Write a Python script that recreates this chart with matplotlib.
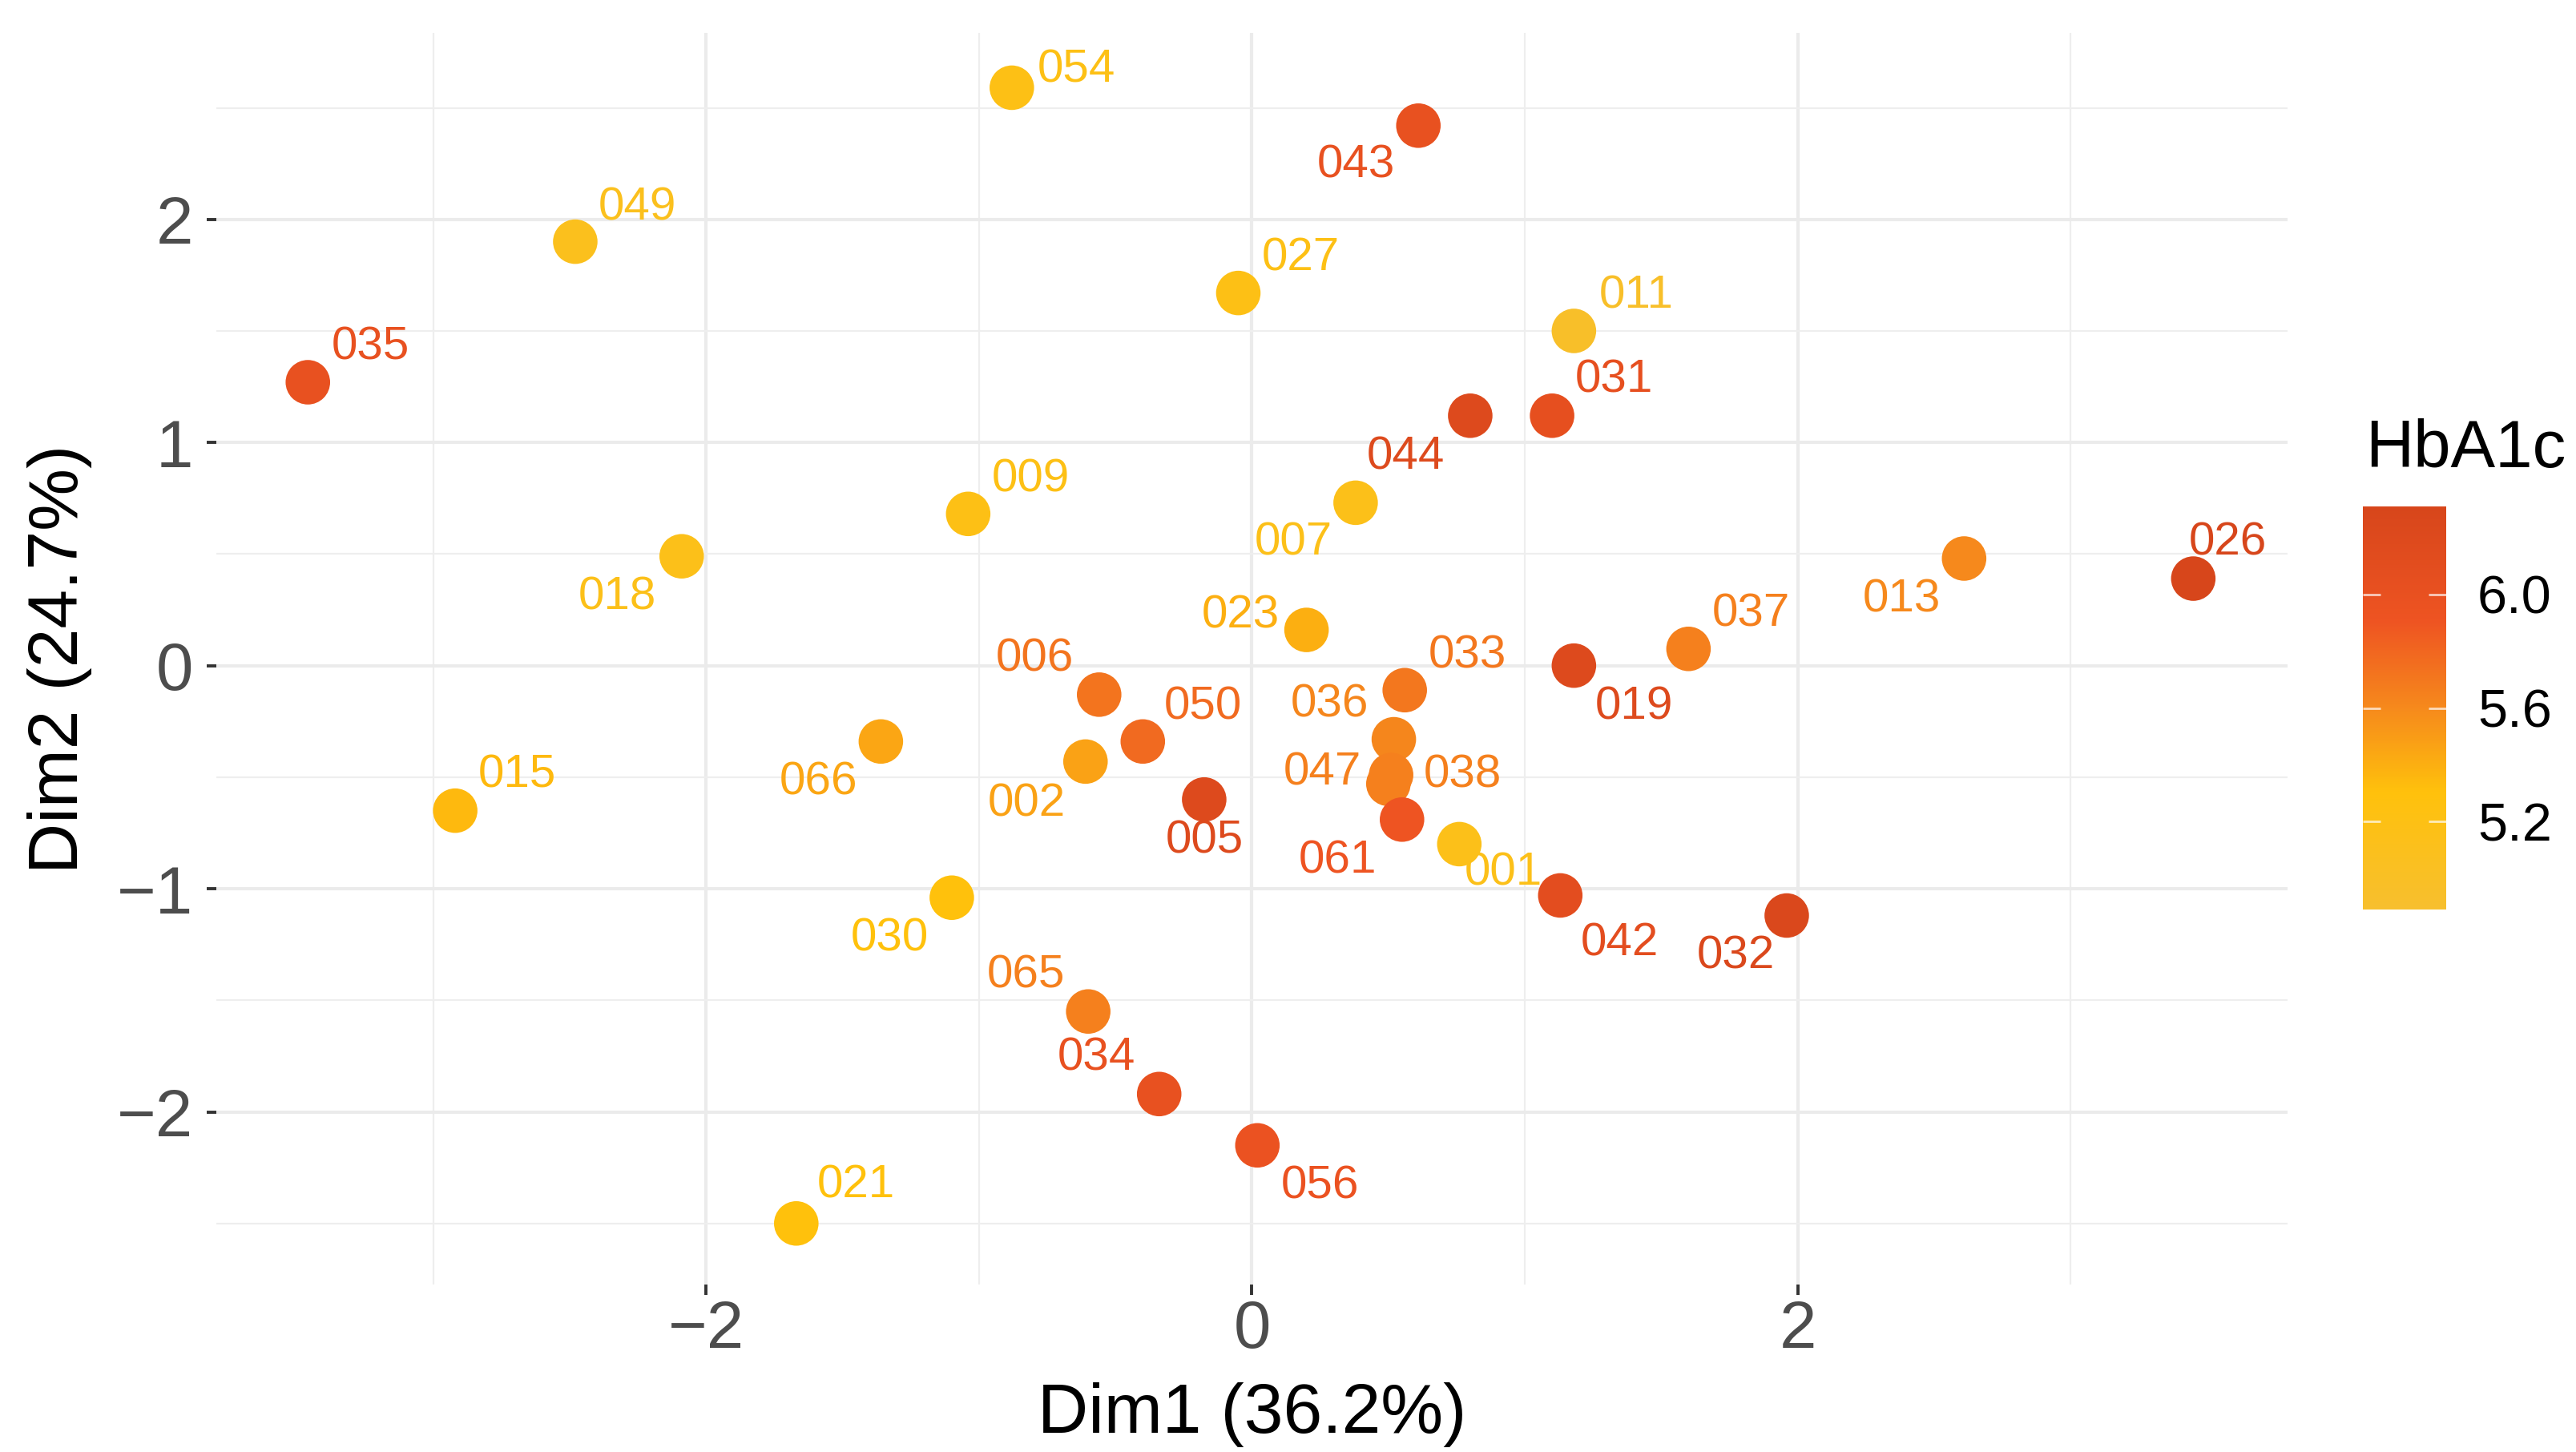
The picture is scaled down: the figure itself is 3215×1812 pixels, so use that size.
import numpy as np
import matplotlib
matplotlib.use("Agg")
import matplotlib.pyplot as plt
from matplotlib.colors import LinearSegmentedColormap, Normalize

plt.rcParams['font.family'] = ['Liberation Sans', 'DejaVu Sans']

# sample ids, PCA coordinates and HbA1c values
ids = ["054", "043", "049", "027", "011", "035", "031", "044", "007", "009",
       "018", "013", "026", "023", "037", "019", "033", "006", "036", "050",
       "066", "002", "047", "038", "005", "061", "001", "042", "032", "030",
       "065", "034", "056", "021", "015"]
dim1 = [-0.88, 0.61, -2.48, -0.05, 1.18, -3.46, 1.10, 0.80, 0.38, -1.04,
        -2.09, 2.61, 3.45, 0.20, 1.60, 1.18, 0.56, -0.56, 0.52, -0.40,
        -1.36, -0.61, 0.50, 0.51, -0.175, 0.55, 0.76, 1.13, 1.96, -1.10,
        -0.60, -0.34, 0.02, -1.67, -2.92]
dim2 = [2.59, 2.42, 1.90, 1.67, 1.50, 1.27, 1.12, 1.12, 0.73, 0.68,
        0.49, 0.48, 0.39, 0.16, 0.075, 0.0, -0.11, -0.13, -0.33, -0.34,
        -0.34, -0.43, -0.53, -0.49, -0.60, -0.69, -0.80, -1.03, -1.12, -1.04,
        -1.55, -1.92, -2.15, -2.50, -0.65]
hba1c = [5.2, 6.0, 5.1, 5.2, 4.95, 6.0, 6.05, 6.2, 5.15, 5.2,
         5.15, 5.6, 6.3, 5.4, 5.65, 6.2, 5.7, 5.72, 5.62, 5.78,
         5.45, 5.47, 5.65, 5.65, 6.2, 5.9, 5.15, 6.1, 6.25, 5.3,
         5.65, 6.0, 5.95, 5.3, 5.35]

# label offsets (points), mimicking the repel layout
label_dx = [29, -28, 28, 28, 28, 28, 28, -29, -28, 28,
            -29, -28, 15.5, -29.5, 28, 27, 28, -29, -29, 27,
            -28, -26.5, -29.5, 32, 0, -29, 20, 26.5, -23, -28,
            -28, -28, 28, 27, 28]
label_dy = [8, -18, 15, 15.5, 15.5, 15.5, 16, -18.5, -18, 15.5,
            -18.5, -18.5, 16, 6.5, 15.5, -18.5, 15.5, 16, 15.5, 15.5,
            -18.5, -19, 5, 0, -18.5, -18.5, -13, -21.5, -18.5, -18.5,
            16, 16, -18.5, 17, 16]

cmap = LinearSegmentedColormap.from_list(
    "hba1c",
    [(0.0, "#F7BF2E"), (0.29, "#FFC10C"), (0.50, "#F6891C"),
     (0.715, "#EE5422"), (1.0, "#D7461B")])
norm = Normalize(4.89, 6.31)

fig = plt.figure(figsize=(16.08, 9.06), dpi=200)
ax = fig.add_axes([0.0840, 0.1153, 0.8037, 0.8621])

sc = ax.scatter(dim1, dim2, c=hba1c, cmap=cmap, norm=norm, s=400,
                linewidths=0, zorder=3)
for lab, x, y, v, dx, dy in zip(ids, dim1, dim2, hba1c, label_dx, label_dy):
    ax.annotate(lab, (x, y), xytext=(dx, dy), textcoords='offset points',
                ha='center', va='center', fontsize=21, color=cmap(norm(v)),
                zorder=4)

ax.set_xlim(-3.795, 3.795)
ax.set_ylim(-2.774, 2.836)
ax.set_xticks([-2, 0, 2])
ax.set_yticks([-2, -1, 0, 1, 2])
ax.set_xticks([-3, -1, 1, 3], minor=True)
ax.set_yticks([-2.5, -1.5, -0.5, 0.5, 1.5, 2.5], minor=True)
ax.grid(which='major', color='#EBEBEB', linewidth=1.5, zorder=0)
ax.grid(which='minor', color='#EEEEEE', linewidth=0.8, zorder=0)
ax.set_axisbelow(True)
for s in ax.spines.values():
    s.set_visible(False)
ax.tick_params(which='major', length=4.5, width=1.4, color='#333333',
               labelsize=30, labelcolor='#4D4D4D')
ax.tick_params(axis='x', which='major', pad=2)
ax.tick_params(axis='y', which='major', pad=6)
ax.tick_params(which='minor', length=0)

ax.set_xlabel("Dim1 (36.2%)", fontsize=31.5)
ax.xaxis.set_label_coords(0.5, -0.078)
ax.set_ylabel("Dim2 (24.7%)", fontsize=31.5)
ax.yaxis.set_label_coords(-0.060, 0.5)

cax = fig.add_axes([0.917, 0.3736, 0.0323, 0.2776])
cb = fig.colorbar(sc, cax=cax, ticks=[5.2, 5.6, 6.0])
cb.outline.set_visible(False)
cb.ax.set_yticklabels(["5.2", "5.6", "6.0"])
cax.tick_params(direction='in', length=8, width=1.0, color=(1, 1, 1, 0.7),
                left=True, right=True, labelsize=24, labelcolor='black', pad=14)
fig.text(0.918, 1 - 583 / 1812, "HbA1c", fontsize=30, ha='left', va='baseline')

fig.savefig("out.png", dpi=200, facecolor='white')
